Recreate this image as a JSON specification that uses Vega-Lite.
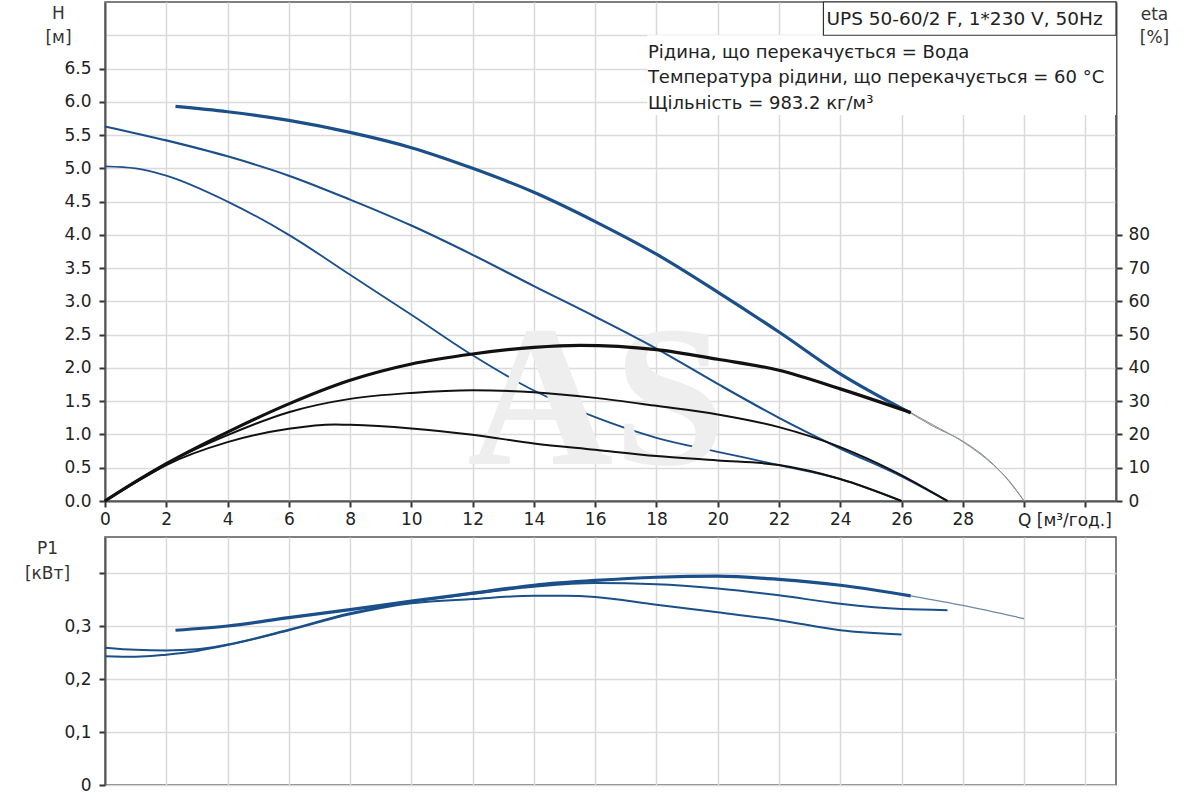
{
  "$schema": "https://vega.github.io/schema/vega-lite/v6.json",
  "background": "white",
  "padding": {"left": 23, "top": 0, "right": 5, "bottom": 5},
  "spacing": 36,
  "bounds": "flush",
  "datasets": {
    "head": [
      {"q": 2.3, "h": 5.93, "c": "3"}, {"q": 4, "h": 5.85, "c": "3"}, {"q": 6, "h": 5.72, "c": "3"},
      {"q": 8, "h": 5.54, "c": "3"}, {"q": 10, "h": 5.31, "c": "3"}, {"q": 12, "h": 5.0, "c": "3"},
      {"q": 14, "h": 4.64, "c": "3"}, {"q": 16, "h": 4.2, "c": "3"}, {"q": 18, "h": 3.71, "c": "3"},
      {"q": 20, "h": 3.14, "c": "3"}, {"q": 22, "h": 2.54, "c": "3"}, {"q": 24, "h": 1.91, "c": "3"},
      {"q": 26.3, "h": 1.32, "c": "3"},
      {"q": 26.3, "h": 1.32, "c": "3t"}, {"q": 27, "h": 1.13, "c": "3t"}, {"q": 28, "h": 0.9, "c": "3t"},
      {"q": 29, "h": 0.55, "c": "3t"}, {"q": 29.5, "h": 0.3, "c": "3t"}, {"q": 30, "h": 0, "c": "3t"},
      {"q": 0, "h": 5.63, "c": "2"}, {"q": 2, "h": 5.42, "c": "2"}, {"q": 4, "h": 5.18, "c": "2"},
      {"q": 6, "h": 4.89, "c": "2"}, {"q": 8, "h": 4.53, "c": "2"}, {"q": 10, "h": 4.14, "c": "2"},
      {"q": 12, "h": 3.7, "c": "2"}, {"q": 14, "h": 3.23, "c": "2"}, {"q": 16, "h": 2.77, "c": "2"},
      {"q": 18, "h": 2.29, "c": "2"}, {"q": 20, "h": 1.76, "c": "2"}, {"q": 22, "h": 1.25, "c": "2"},
      {"q": 24, "h": 0.79, "c": "2"}, {"q": 26, "h": 0.37, "c": "2"}, {"q": 27.5, "h": 0, "c": "2"},
      {"q": 0, "h": 5.03, "c": "1"}, {"q": 1, "h": 5.0, "c": "1"}, {"q": 2, "h": 4.89, "c": "1"},
      {"q": 4, "h": 4.5, "c": "1"}, {"q": 6, "h": 4.0, "c": "1"}, {"q": 8, "h": 3.4, "c": "1"},
      {"q": 10, "h": 2.8, "c": "1"}, {"q": 12, "h": 2.19, "c": "1"}, {"q": 14, "h": 1.66, "c": "1"},
      {"q": 16, "h": 1.26, "c": "1"}, {"q": 18, "h": 0.95, "c": "1"}, {"q": 20, "h": 0.74, "c": "1"},
      {"q": 22, "h": 0.54, "c": "1"}, {"q": 24, "h": 0.33, "c": "1"}, {"q": 26, "h": 0, "c": "1"}
    ],
    "eta": [
      {"q": 0, "e": 0, "c": "3"}, {"q": 1, "e": 5.8, "c": "3"}, {"q": 2, "e": 11.2, "c": "3"},
      {"q": 4, "e": 20.7, "c": "3"}, {"q": 6, "e": 29.2, "c": "3"}, {"q": 8, "e": 36.3, "c": "3"},
      {"q": 10, "e": 41.2, "c": "3"}, {"q": 12, "e": 44.2, "c": "3"}, {"q": 14, "e": 46.2, "c": "3"},
      {"q": 15.5, "e": 46.8, "c": "3"}, {"q": 18, "e": 45.5, "c": "3"}, {"q": 20, "e": 42.6, "c": "3"},
      {"q": 22, "e": 39.3, "c": "3"}, {"q": 24, "e": 33.7, "c": "3"}, {"q": 26.3, "e": 26.6, "c": "3"},
      {"q": 26.3, "e": 26.6, "c": "3t"}, {"q": 27, "e": 23, "c": "3t"}, {"q": 28, "e": 17.8, "c": "3t"},
      {"q": 29, "e": 10.8, "c": "3t"}, {"q": 29.5, "e": 6.2, "c": "3t"}, {"q": 30, "e": 0, "c": "3t"},
      {"q": 0, "e": 0, "c": "2"}, {"q": 1, "e": 5.8, "c": "2"}, {"q": 2, "e": 11.2, "c": "2"},
      {"q": 4, "e": 19.8, "c": "2"}, {"q": 6, "e": 26.7, "c": "2"}, {"q": 8, "e": 30.7, "c": "2"},
      {"q": 10, "e": 32.5, "c": "2"}, {"q": 12, "e": 33.3, "c": "2"}, {"q": 14, "e": 32.7, "c": "2"},
      {"q": 16, "e": 31.0, "c": "2"}, {"q": 18, "e": 28.6, "c": "2"}, {"q": 20, "e": 26.0, "c": "2"},
      {"q": 22, "e": 22.2, "c": "2"}, {"q": 24, "e": 16.2, "c": "2"}, {"q": 25.8, "e": 8.7, "c": "2"},
      {"q": 27.5, "e": 0, "c": "2"},
      {"q": 0, "e": 0, "c": "1"}, {"q": 1, "e": 5.6, "c": "1"}, {"q": 2, "e": 10.8, "c": "1"},
      {"q": 4, "e": 17.7, "c": "1"}, {"q": 6, "e": 21.7, "c": "1"}, {"q": 7.5, "e": 23.0, "c": "1"},
      {"q": 8, "e": 22.9, "c": "1"}, {"q": 10, "e": 21.8, "c": "1"}, {"q": 12, "e": 19.9, "c": "1"},
      {"q": 14, "e": 17.3, "c": "1"}, {"q": 16, "e": 15.4, "c": "1"}, {"q": 18, "e": 13.5, "c": "1"},
      {"q": 20, "e": 12.2, "c": "1"}, {"q": 22, "e": 10.8, "c": "1"}, {"q": 24, "e": 6.6, "c": "1"},
      {"q": 26, "e": 0, "c": "1"}
    ],
    "power": [
      {"q": 2.3, "p": 0.292, "c": "3"}, {"q": 4, "p": 0.3, "c": "3"}, {"q": 6, "p": 0.316, "c": "3"},
      {"q": 8, "p": 0.331, "c": "3"}, {"q": 10, "p": 0.347, "c": "3"}, {"q": 12, "p": 0.362, "c": "3"},
      {"q": 14, "p": 0.377, "c": "3"}, {"q": 16, "p": 0.386, "c": "3"}, {"q": 18, "p": 0.392, "c": "3"},
      {"q": 20, "p": 0.394, "c": "3"}, {"q": 22, "p": 0.388, "c": "3"}, {"q": 24, "p": 0.377, "c": "3"},
      {"q": 26.3, "p": 0.357, "c": "3"},
      {"q": 26.3, "p": 0.357, "c": "3t"}, {"q": 28, "p": 0.339, "c": "3t"}, {"q": 30, "p": 0.314, "c": "3t"},
      {"q": 0, "p": 0.259, "c": "2"}, {"q": 1, "p": 0.255, "c": "2"}, {"q": 2, "p": 0.254, "c": "2"},
      {"q": 3, "p": 0.256, "c": "2"}, {"q": 4, "p": 0.265, "c": "2"}, {"q": 6, "p": 0.293, "c": "2"},
      {"q": 8, "p": 0.324, "c": "2"}, {"q": 10, "p": 0.346, "c": "2"}, {"q": 12, "p": 0.361, "c": "2"},
      {"q": 14, "p": 0.374, "c": "2"}, {"q": 16, "p": 0.381, "c": "2"}, {"q": 18, "p": 0.379, "c": "2"},
      {"q": 20, "p": 0.371, "c": "2"}, {"q": 22, "p": 0.358, "c": "2"}, {"q": 24, "p": 0.342, "c": "2"},
      {"q": 26, "p": 0.332, "c": "2"}, {"q": 27.5, "p": 0.33, "c": "2"},
      {"q": 0, "p": 0.243, "c": "1"}, {"q": 1, "p": 0.242, "c": "1"}, {"q": 2, "p": 0.246, "c": "1"},
      {"q": 3, "p": 0.253, "c": "1"}, {"q": 4, "p": 0.264, "c": "1"}, {"q": 6, "p": 0.292, "c": "1"},
      {"q": 8, "p": 0.322, "c": "1"}, {"q": 10, "p": 0.343, "c": "1"}, {"q": 12, "p": 0.351, "c": "1"},
      {"q": 14, "p": 0.357, "c": "1"}, {"q": 15, "p": 0.357, "c": "1"}, {"q": 16, "p": 0.355, "c": "1"},
      {"q": 18, "p": 0.34, "c": "1"}, {"q": 20, "p": 0.326, "c": "1"}, {"q": 22, "p": 0.311, "c": "1"},
      {"q": 24, "p": 0.292, "c": "1"}, {"q": 26, "p": 0.284, "c": "1"}
    ]
  },
  "vconcat": [
    {
      "width": 1011,
      "height": 499,
      "resolve": {"scale": {"y": "independent"}},
      "layer": [
        {
          "layer": [
            {
              "data": {"name": "head"},
              "transform": [{"filter": "datum.c == '1'"}],
              "mark": {"type": "line", "color": "#1b4f8a", "strokeWidth": 1.8, "interpolate": "monotone"},
              "encoding": {
                "x": {
                  "field": "q", "type": "quantitative", "title": null,
                  "scale": {"domain": [0, 33], "nice": false, "zero": false},
                  "axis": {
                    "values": [0, 2, 4, 6, 8, 10, 12, 14, 16, 18, 20, 22, 24, 26, 28, 30, 32],
                    "tickCount": 40,
                    "grid": true, "labelPadding": 4, "labelFlush": false, "labelOverlap": false,
                    "labelExpr": "datum.value > 28 ? '' : datum.label"
                  }
                },
                "y": {
                  "field": "h", "type": "quantitative", "title": null,
                  "scale": {"domain": [0, 7.5], "nice": false},
                  "axis": {
                    "values": [0, 0.5, 1, 1.5, 2, 2.5, 3, 3.5, 4, 4.5, 5, 5.5, 6, 6.5, 7],
                    "tickCount": 40,
                    "grid": true, "labelPadding": 8, "labelFlush": false, "labelOverlap": false,
                    "labelExpr": "datum.value > 6.6 ? '' : format(datum.value, '.1f')",
                    "tickOpacity": {"condition": {"test": "datum.value > 6.6", "value": 0}, "value": 1},
                    "title": ["H", "[м]"], "titleAngle": 0, "titleAlign": "center",
                    "titleBaseline": "alphabetic", "titleX": -47, "titleY": 16, "titleLineHeight": 24
                  }
                }
              }
            },
            {
              "data": {"values": [{}]},
              "mark": {"type": "text", "text": "AS", "font": "Liberation Serif", "fontSize": 202, "fontWeight": "bold", "color": "#eeeeee", "align": "center", "baseline": "alphabetic"},
              "encoding": {
                "x": {"datum": 16.05, "type": "quantitative"},
                "y": {"datum": 0.56, "type": "quantitative"}
              }
            },
            {
              "data": {"values": [{}]},
              "mark": {"type": "rect", "fill": "white", "strokeWidth": 0},
              "encoding": {
                "x": {"datum": 17.7, "type": "quantitative"},
                "x2": {"datum": 33},
                "y": {"datum": 5.8, "type": "quantitative"},
                "y2": {"datum": 7.0}
              }
            },
            {
              "data": {"values": [{}]},
              "mark": {"type": "rect", "fill": "white", "stroke": "#333333", "strokeWidth": 1.2},
              "encoding": {
                "x": {"datum": 23.45, "type": "quantitative"},
                "x2": {"datum": 33},
                "y": {"datum": 7.0, "type": "quantitative"},
                "y2": {"datum": 7.5}
              }
            },
            {
              "data": {"values": [{}]},
              "mark": {"type": "text", "text": "UPS 50-60/2 F, 1*230 V, 50Hz", "fontSize": 18.5, "color": "#222222", "align": "left", "baseline": "middle"},
              "encoding": {
                "x": {"datum": 23.55, "type": "quantitative"},
                "y": {"datum": 7.25, "type": "quantitative"}
              }
            },
            {
              "data": {"values": [{}]},
              "mark": {
                "type": "text",
                "text": ["Рідина, що перекачується = Вода", "Температура рідини, що перекачується = 60 °C", "Щільність = 983.2 кг/м³"],
                "fontSize": 18, "lineHeight": 25.5, "color": "#222222", "align": "left", "baseline": "middle"
              },
              "encoding": {
                "x": {"datum": 17.72, "type": "quantitative"},
                "y": {"datum": 6.74, "type": "quantitative"}
              }
            },
            {
              "data": {"values": [{}]},
              "mark": {"type": "text", "text": "Q [м³/год.]", "fontSize": 17, "color": "#222222", "align": "left", "baseline": "middle", "clip": false},
              "encoding": {
                "x": {"datum": 29.8, "type": "quantitative"},
                "y": {"datum": -0.3, "type": "quantitative"}
              }
            },
            {
              "data": {"name": "head"},
              "transform": [{"filter": "datum.c == '2'"}],
              "mark": {"type": "line", "color": "#1b4f8a", "strokeWidth": 2.1, "interpolate": "monotone"},
              "encoding": {
                "x": {"field": "q", "type": "quantitative"},
                "y": {"field": "h", "type": "quantitative"}
              }
            },
            {
              "data": {"name": "head"},
              "transform": [{"filter": "datum.c == '3t'"}],
              "mark": {"type": "line", "color": "#7f8ea3", "strokeWidth": 1, "interpolate": "monotone"},
              "encoding": {
                "x": {"field": "q", "type": "quantitative"},
                "y": {"field": "h", "type": "quantitative"}
              }
            },
            {
              "data": {"name": "head"},
              "transform": [{"filter": "datum.c == '3'"}],
              "mark": {"type": "line", "color": "#1b4f8a", "strokeWidth": 3.2, "interpolate": "monotone"},
              "encoding": {
                "x": {"field": "q", "type": "quantitative"},
                "y": {"field": "h", "type": "quantitative"}
              }
            }
          ]
        },
        {
          "layer": [
            {
              "data": {"name": "eta"},
              "transform": [{"filter": "datum.c == '1' || datum.c == '2'"}],
              "mark": {"type": "line", "color": "#111111", "strokeWidth": 2, "interpolate": "monotone"},
              "encoding": {
                "detail": {"field": "c", "type": "nominal"},
                "x": {"field": "q", "type": "quantitative"},
                "y": {
                  "field": "e", "type": "quantitative", "title": null,
                  "scale": {"domain": [0, 150], "nice": false},
                  "axis": {
                    "orient": "right", "grid": false, "labelPadding": 6, "labelOverlap": false,
                    "values": [0, 10, 20, 30, 40, 50, 60, 70, 80], "tickCount": 40,
                    "title": ["eta", "[%]"], "titleAngle": 0, "titleAlign": "center",
                    "titleBaseline": "alphabetic", "titleX": 38, "titleY": 17, "titleLineHeight": 23
                  }
                }
              }
            },
            {
              "data": {"name": "eta"},
              "transform": [{"filter": "datum.c == '3t'"}],
              "mark": {"type": "line", "color": "#8a8a8a", "strokeWidth": 1, "interpolate": "monotone"},
              "encoding": {
                "x": {"field": "q", "type": "quantitative"},
                "y": {"field": "e", "type": "quantitative"}
              }
            },
            {
              "data": {"name": "eta"},
              "transform": [{"filter": "datum.c == '3'"}],
              "mark": {"type": "line", "color": "#111111", "strokeWidth": 3.2, "interpolate": "monotone"},
              "encoding": {
                "x": {"field": "q", "type": "quantitative"},
                "y": {"field": "e", "type": "quantitative"}
              }
            }
          ]
        }
      ]
    },
    {
      "width": 1011,
      "height": 248,
      "data": {"name": "power"},
      "layer": [
        {
          "transform": [{"filter": "datum.c == '1' || datum.c == '2'"}],
          "mark": {"type": "line", "color": "#1b4f8a", "strokeWidth": 2, "interpolate": "monotone"},
          "encoding": {
            "detail": {"field": "c", "type": "nominal"},
            "x": {
              "field": "q", "type": "quantitative", "title": null,
              "scale": {"domain": [0, 33], "nice": false, "zero": false},
              "axis": {
                "values": [0, 2, 4, 6, 8, 10, 12, 14, 16, 18, 20, 22, 24, 26, 28, 30, 32], "tickCount": 40,
                "grid": true, "labels": false, "ticks": false, "domain": false
              }
            },
            "y": {
              "field": "p", "type": "quantitative", "title": null,
              "scale": {"domain": [0, 0.468], "nice": false},
              "axis": {
                "values": [0, 0.1, 0.2, 0.3, 0.4], "tickCount": 40,
                "grid": true, "labelPadding": 8, "labelFlush": false, "labelOverlap": false,
                "labelExpr": "datum.value == 0 ? '0' : datum.value > 0.35 ? '' : replace(format(datum.value, '.1f'), '.', ',')",
                "title": ["P1", "[кВт]"], "titleAngle": 0, "titleAlign": "center",
                "titleBaseline": "alphabetic", "titleX": -58, "titleY": 16, "titleLineHeight": 25
              }
            }
          }
        },
        {
          "transform": [{"filter": "datum.c == '3t'"}],
          "mark": {"type": "line", "color": "#6f86a6", "strokeWidth": 1.2, "interpolate": "monotone"},
          "encoding": {
            "x": {"field": "q", "type": "quantitative"},
            "y": {"field": "p", "type": "quantitative"}
          }
        },
        {
          "transform": [{"filter": "datum.c == '3'"}],
          "mark": {"type": "line", "color": "#1b4f8a", "strokeWidth": 3.2, "interpolate": "monotone"},
          "encoding": {
            "x": {"field": "q", "type": "quantitative"},
            "y": {"field": "p", "type": "quantitative"}
          }
        }
      ]
    }
  ],
  "config": {
    "font": "DejaVu Sans",
    "view": {"stroke": "#555555", "strokeWidth": 1.5},
    "axis": {
      "labelFont": "DejaVu Sans", "labelFontSize": 17, "labelColor": "#222222",
      "titleFont": "DejaVu Sans", "titleFontSize": 17, "titleFontWeight": "normal", "titleColor": "#333333",
      "domainColor": "#555555", "domainWidth": 2,
      "tickColor": "#333333", "tickSize": 6, "tickWidth": 2,
      "gridColor": "#dadada", "gridWidth": 1.5
    }
  }
}
